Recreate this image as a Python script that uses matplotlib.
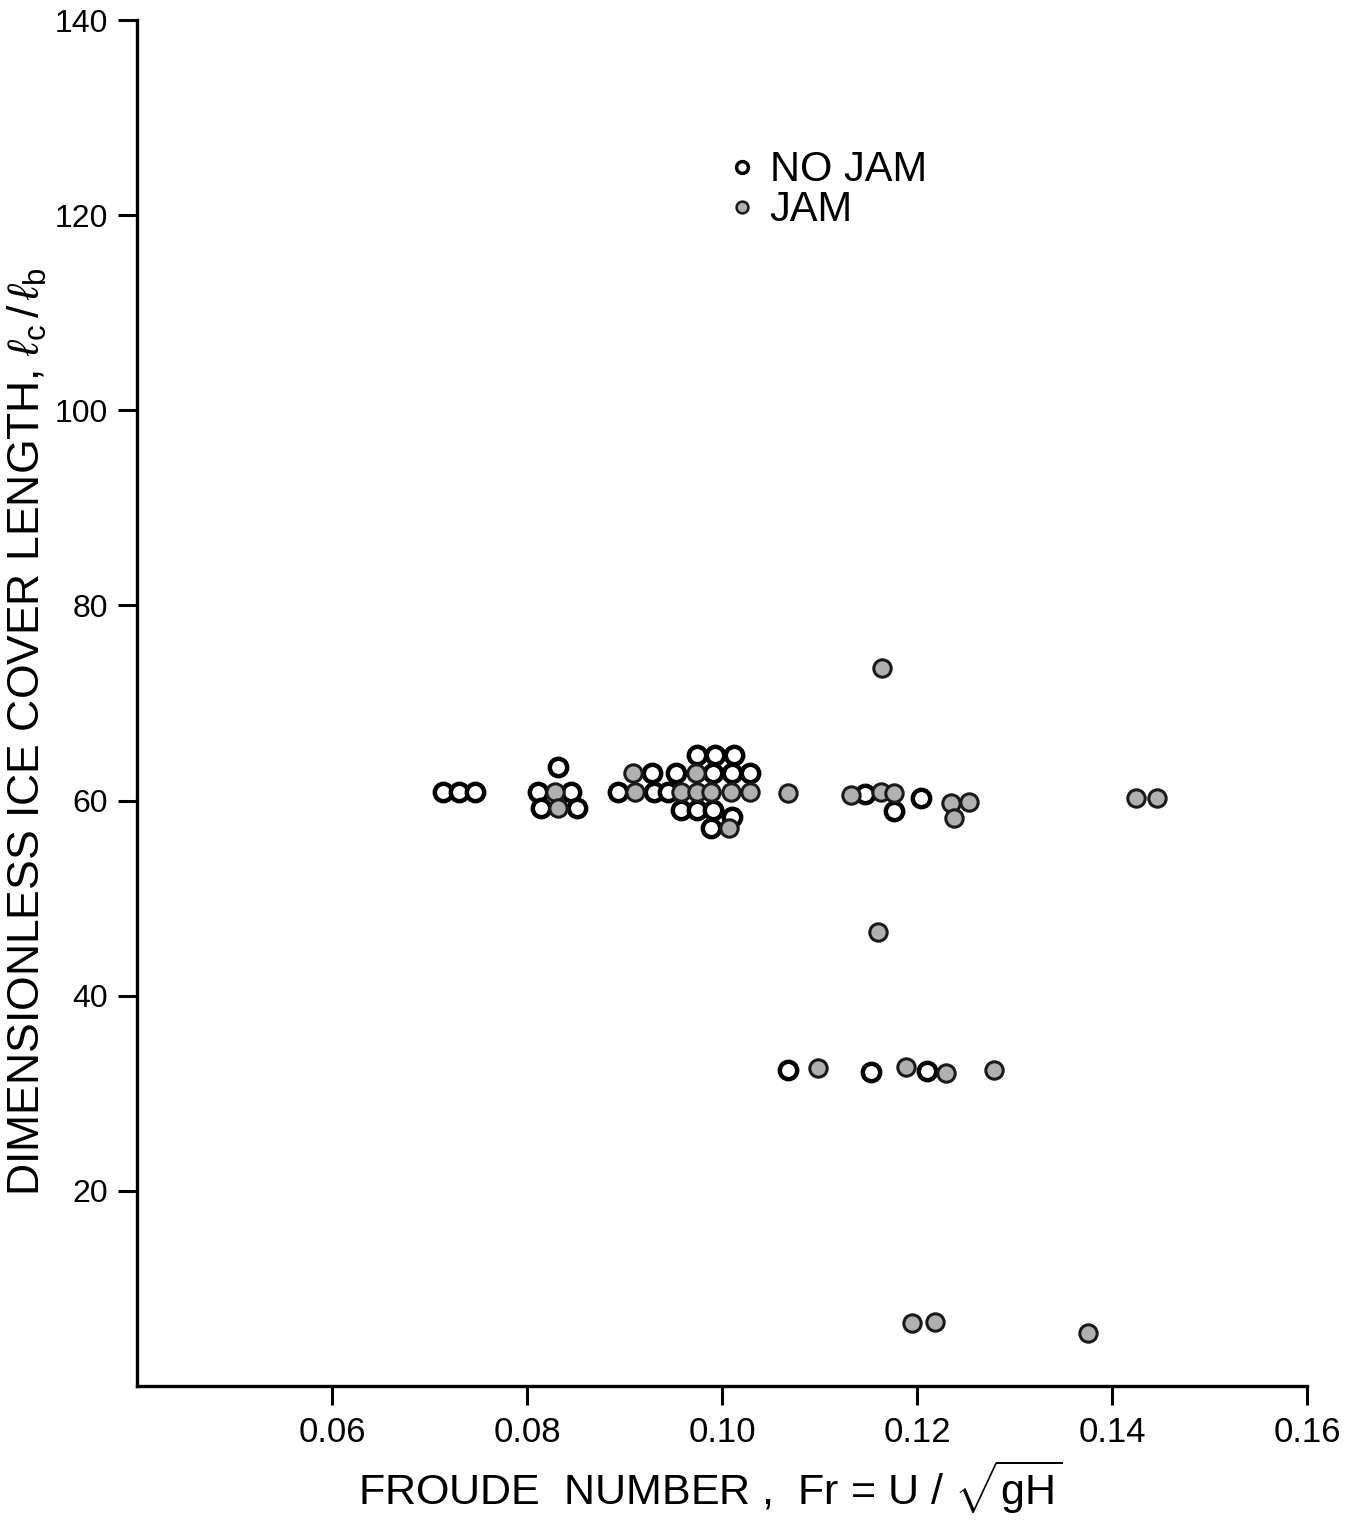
import matplotlib
matplotlib.use('Agg')
import matplotlib.pyplot as plt
from matplotlib.lines import Line2D

plt.rcParams['font.family'] = ['Liberation Sans', 'DejaVu Sans']
plt.rcParams['mathtext.fontset'] = 'custom'
plt.rcParams['mathtext.rm'] = 'Liberation Sans'
plt.rcParams['mathtext.it'] = 'Liberation Sans:italic'

# Froude number vs. dimensionless ice cover length
no_jam_fr = [0.0714, 0.0730, 0.0747,
             0.0832, 0.0811, 0.0845, 0.0814, 0.0851,
             0.0893, 0.0930, 0.0945,
             0.0928, 0.0953, 0.0991, 0.1010, 0.1029,
             0.0974, 0.0993, 0.1012,
             0.0958, 0.0974, 0.0991, 0.1010, 0.0989,
             0.1147, 0.1176, 0.1204,
             0.1068, 0.1153, 0.1210]
no_jam_l = [60.9, 60.9, 60.9,
            63.4, 60.9, 60.9, 59.2, 59.2,
            60.9, 60.9, 60.9,
            62.8, 62.8, 62.8, 62.8, 62.8,
            64.7, 64.7, 64.7,
            59.0, 59.0, 59.0, 58.3, 57.2,
            60.7, 58.9, 60.3,
            32.4, 32.2, 32.3]

jam_fr = [0.0829, 0.0832,
          0.0911, 0.0958, 0.0974, 0.0989, 0.1009, 0.1029,
          0.0909, 0.0973, 0.1007,
          0.1068, 0.1164, 0.1132, 0.1163, 0.1176,
          0.1235, 0.1253, 0.1238, 0.1425, 0.1446,
          0.1160,
          0.1099, 0.1189, 0.1230, 0.1279,
          0.1195, 0.1218, 0.1375]
jam_l = [60.9, 59.2,
         60.9, 60.9, 60.9, 60.9, 60.9, 60.9,
         62.8, 62.8, 57.2,
         60.8, 73.6, 60.6, 60.9, 60.8,
         59.7, 59.9, 58.2, 60.3, 60.3,
         46.5,
         32.6, 32.7, 32.1, 32.4,
         6.5, 6.6, 5.4]

x_ticks = [0.06, 0.08, 0.10, 0.12, 0.14, 0.16]
x_labels = ['0.06', '0.08', '0.10', '0.12', '0.14', '0.16']
y_ticks = [20, 40, 60, 80, 100, 120, 140]

fig = plt.figure(figsize=(13.51, 15.20), dpi=100)
ax = fig.add_axes([0.1014, 0.0882, 0.8660, 0.8986])

ax.plot(no_jam_fr, no_jam_l, 'o', ms=12.5, mfc='white', mec='black', mew=3.2, ls='none')
ax.plot(jam_fr, jam_l, 'o', ms=12.5, mfc='#b0b0b0', mec='#1a1a1a', mew=2.2, ls='none')

ax.set_xlim(0.04, 0.16)
ax.set_ylim(0, 140)
ax.set_xticks(x_ticks)
ax.set_xticklabels(x_labels)
ax.set_yticks(y_ticks)

for s in ['top', 'right']:
    ax.spines[s].set_visible(False)
for s in ['left', 'bottom']:
    ax.spines[s].set_linewidth(2.4)
ax.tick_params(axis='x', direction='out', length=14, width=2.2, labelsize=25, pad=8)
ax.tick_params(axis='y', direction='out', length=14, width=2.2, labelsize=23, pad=7)

fig.text(0.526, 0.010, r'FROUDE  NUMBER ,  Fr = U $/$ $\sqrt{\mathrm{gH}}$',
         ha='center', va='baseline', fontsize=31)
fig.text(0.0205, 0.519, r'DIMENSIONLESS ICE COVER LENGTH, $\ell_{\mathrm{c}}\,/\,\ell_{\mathrm{b}}$',
         ha='center', va='center', rotation=90, fontsize=32)

handles = [Line2D([], [], marker='o', ls='none', ms=8.5, mfc='white', mec='black', mew=2.5),
           Line2D([], [], marker='o', ls='none', ms=8.5, mfc='#b0b0b0', mec='#1a1a1a', mew=1.8)]
ax.legend(handles, ['NO JAM', 'JAM'], loc='upper left', bbox_to_anchor=(0.489, 0.920),
          frameon=False, fontsize=30, handlelength=0.6, handletextpad=0.35,
          labelspacing=0.0, borderpad=0)

fig.savefig('out.png', dpi=100, facecolor='white')
